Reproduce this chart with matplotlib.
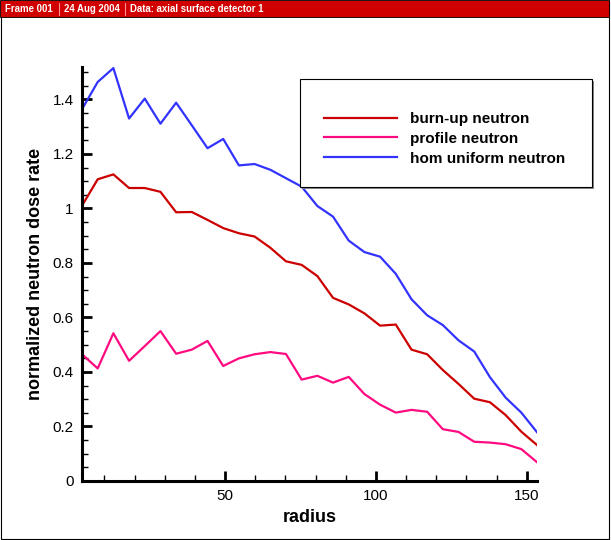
import matplotlib
matplotlib.use("Agg")
import matplotlib.pyplot as plt
from matplotlib.patches import Rectangle
from matplotlib.ticker import MultipleLocator, FuncFormatter

plt.rcParams['font.family'] = ['Liberation Sans', 'DejaVu Sans']

# radius positions of the detector points
radius = [2.6, 7.8, 13.0, 18.2, 23.4, 28.6, 33.8, 39.0, 44.2, 49.4,
          54.6, 59.8, 65.0, 70.2, 75.4, 80.6, 85.8, 91.0, 96.2, 101.4,
          106.6, 111.8, 117.0, 122.2, 127.4, 132.6, 137.8, 143.0, 148.2, 153.4]

burnup = [1.010, 1.107, 1.125, 1.075, 1.075, 1.061, 0.986, 0.987, 0.958, 0.928,
          0.909, 0.897, 0.856, 0.806, 0.793, 0.752, 0.672, 0.648, 0.615, 0.570,
          0.574, 0.482, 0.465, 0.407, 0.356, 0.302, 0.289, 0.242, 0.181, 0.132]

profile = [0.465, 0.413, 0.542, 0.441, 0.495, 0.550, 0.467, 0.482, 0.514, 0.422,
           0.450, 0.465, 0.473, 0.466, 0.372, 0.386, 0.361, 0.382, 0.319, 0.280,
           0.251, 0.261, 0.254, 0.190, 0.180, 0.144, 0.141, 0.135, 0.117, 0.069]

uniform = [1.364, 1.464, 1.515, 1.330, 1.403, 1.311, 1.388, 1.305, 1.221, 1.255,
           1.158, 1.163, 1.142, 1.111, 1.080, 1.009, 0.970, 0.882, 0.840, 0.823,
           0.760, 0.667, 0.608, 0.572, 0.516, 0.475, 0.381, 0.306, 0.251, 0.179]

labels = ['burn-up neutron', 'profile neutron', 'hom uniform neutron']
colors = ['#cc0000', '#ff0a80', '#3333ff']

W, H = 611, 540
fig = plt.figure(figsize=(W / 100, H / 100), dpi=100)

# frame and header bar
fig.patches.append(Rectangle((0.5 / W, 1 - 538.5 / H), 608.5 / W, 538 / H,
                             transform=fig.transFigure, fill=False,
                             edgecolor='black', linewidth=0.8))
fig.patches.append(Rectangle((0, 1 - 17 / H), 609 / W, 17 / H,
                             transform=fig.transFigure, facecolor='#d10000',
                             edgecolor='black', linewidth=0.6))
hdr_y = 1 - 8.5 / H
hdr = dict(color='white', fontsize=6.9, va='center', fontweight='bold')
fig.text(5 / W, hdr_y, 'Frame 001', **hdr)
fig.text(64 / W, hdr_y, '24 Aug 2004', **hdr)
fig.text(130 / W, hdr_y, 'Data: axial surface detector 1', **hdr)
for sx in (59, 125):
    fig.lines.append(plt.Line2D([sx / W, sx / W], [1 - 15 / H, 1 - 3 / H],
                                transform=fig.transFigure, color='#ff9090',
                                linewidth=0.8))

ax = fig.add_axes([82 / W, 1 - 481 / H, (537 - 82) / W, (481 - 67) / H])
for y, lab, c in zip([burnup, profile, uniform], labels, colors):
    ax.plot(radius, y, color=c, linewidth=1.6, label=lab)

ax.set_xlim(radius[0], radius[-1])
ax.set_ylim(0, 1.519)
ax.spines['top'].set_visible(False)
ax.spines['right'].set_visible(False)
ax.spines['left'].set_linewidth(2.2)
ax.spines['bottom'].set_linewidth(2.2)

ax.xaxis.set_major_locator(MultipleLocator(50))
ax.xaxis.set_minor_locator(MultipleLocator(10))
ax.yaxis.set_major_locator(MultipleLocator(0.2))
ax.yaxis.set_minor_locator(MultipleLocator(0.05))
ax.yaxis.set_major_formatter(FuncFormatter(lambda v, p: '%g' % round(v, 2)))
ax.tick_params(which='major', direction='in', length=7, width=2,
               labelsize=11, pad=6)
ax.tick_params(which='minor', direction='in', length=4, width=1)

ax.set_xlabel('radius', fontsize=13, fontweight='bold', labelpad=4)
ax.set_ylabel('normalized neutron dose rate', fontsize=13, fontweight='bold',
              labelpad=6)

# legend box with shadow
bx0, by0, bx1, by1 = 300, 79, 592, 187
fig.patches.append(Rectangle(((bx0 + 2) / W, 1 - (by1 + 2) / H), (bx1 - bx0) / W,
                             (by1 - by0) / H, transform=fig.transFigure,
                             facecolor='#888888', edgecolor='none', zorder=5))
fig.patches.append(Rectangle((bx0 / W, 1 - by1 / H), (bx1 - bx0) / W,
                             (by1 - by0) / H, transform=fig.transFigure,
                             facecolor='white', edgecolor='black',
                             linewidth=0.8, zorder=6))
handles, _ = ax.get_legend_handles_labels()
leg = fig.legend(handles, labels, loc='upper left',
                 bbox_to_anchor=(324 / W, 1 - 112 / H),
                 bbox_transform=fig.transFigure, frameon=False,
                 prop={'weight': 'bold', 'size': 11}, handlelength=4.8,
                 handletextpad=0.8, labelspacing=0.38, borderpad=0,
                 borderaxespad=0)
leg.set_zorder(7)

fig.savefig('out.png', dpi=100)
